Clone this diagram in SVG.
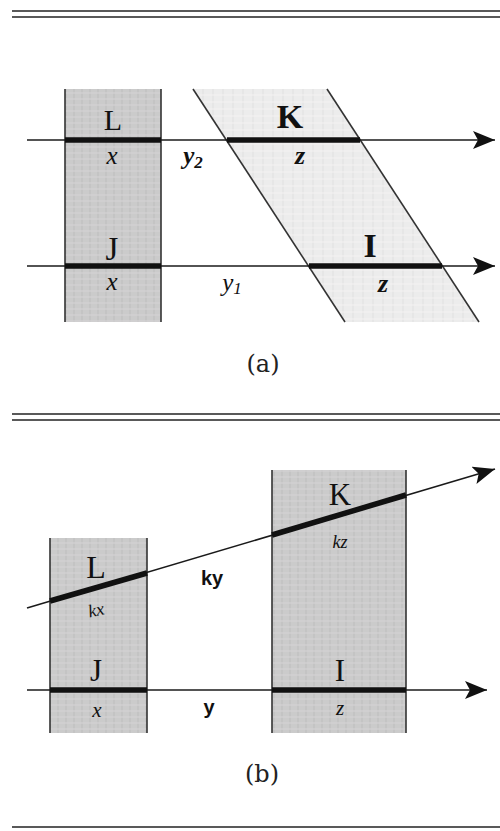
<svg xmlns="http://www.w3.org/2000/svg" width="500" height="831" viewBox="0 0 500 831">
  <defs>
    <style>
      .rule { stroke:#222; stroke-width:1.6; fill:none; }
      .axis { stroke:#1a1a1a; stroke-width:1.6; fill:none; }
      .thick { stroke:#111; stroke-width:5.5; stroke-linecap:butt; fill:none; }
      .side { stroke:#333; stroke-width:1.6; fill:none; }
      .cap { font-family:"Liberation Serif","Times New Roman",serif; fill:#111; text-anchor:middle; }
      .var { font-family:"Liberation Serif","Times New Roman",serif; font-style:italic; fill:#111; text-anchor:middle; }
      .capt { font-family:"DejaVu Serif","Liberation Serif",serif; fill:#222; text-anchor:middle; font-size:24px; }
    </style>
    <pattern id="tex" width="8" height="6" patternUnits="userSpaceOnUse">
      <rect width="8" height="6" fill="#cbcbcb"/>
      <line x1="2" y1="0" x2="2" y2="6" stroke="#bdbdbd" stroke-width="1"/>
      <line x1="0" y1="3" x2="8" y2="3" stroke="#d6d4d6" stroke-width="1"/>
    </pattern>
    <pattern id="tex2" width="10" height="7" patternUnits="userSpaceOnUse">
      <rect width="10" height="7" fill="#ececec"/>
      <line x1="3" y1="0" x2="3" y2="7" stroke="#e0e0e0" stroke-width="1"/>
      <line x1="0" y1="4" x2="10" y2="4" stroke="#f4f2f2" stroke-width="1"/>
    </pattern>
    <marker id="arr" markerUnits="userSpaceOnUse" markerWidth="24" markerHeight="18" refX="22" refY="9" orient="auto">
      <path d="M0,0 L22,9 L0,18 L5,9 Z" fill="#111"/>
    </marker>
  </defs>

  <!-- page rules -->
  <g id="rules">
    <line class="rule" x1="12" y1="11" x2="500" y2="11"/>
    <line class="rule" x1="12" y1="17" x2="500" y2="17"/>
    <line class="rule" x1="12" y1="414" x2="500" y2="414"/>
    <line class="rule" x1="12" y1="420" x2="500" y2="420"/>
    <line class="rule" x1="12" y1="827" x2="500" y2="827"/>
  </g>

  <!-- (a) nodes -->
  <g id="a-left-block">
    <rect x="65" y="89" width="96" height="233" fill="url(#tex)"/>
    <line class="side" x1="65" y1="89" x2="65" y2="322"/>
    <line class="side" x1="161" y1="89" x2="161" y2="322"/>
  </g>
  <g id="a-right-block">
    <polygon points="193,89 327,89 479,322 345,322" fill="url(#tex2)"/>
    <line class="side" x1="193" y1="89" x2="345" y2="322"/>
    <line class="side" x1="327" y1="89" x2="479" y2="322"/>
  </g>

  <!-- (b) nodes -->
  <g id="b-left-block">
    <rect x="50" y="538" width="97" height="195" fill="url(#tex)"/>
    <line class="side" x1="50" y1="538" x2="50" y2="733"/>
    <line class="side" x1="147" y1="538" x2="147" y2="733"/>
  </g>
  <g id="b-right-block">
    <rect x="272" y="470" width="134" height="263" fill="url(#tex)"/>
    <line class="side" x1="272" y1="470" x2="272" y2="733"/>
    <line class="side" x1="406" y1="470" x2="406" y2="733"/>
  </g>

  <!-- connectors -->
  <g id="connectors">
    <line class="axis" x1="27" y1="140" x2="495" y2="140" marker-end="url(#arr)"/>
    <line class="axis" x1="27" y1="266" x2="495" y2="266" marker-end="url(#arr)"/>
    <line class="axis" x1="27" y1="608" x2="495" y2="469" marker-end="url(#arr)"/>
    <line class="axis" x1="27" y1="690" x2="487" y2="690" marker-end="url(#arr)"/>
    <!-- thick segments -->
    <line class="thick" x1="65" y1="140" x2="161" y2="140"/>
    <line class="thick" x1="227" y1="140" x2="360" y2="140"/>
    <line class="thick" x1="65" y1="266" x2="161" y2="266"/>
    <line class="thick" x1="309" y1="266" x2="442" y2="266"/>
    <line class="thick" x1="50" y1="601" x2="147" y2="573"/>
    <line class="thick" x1="272" y1="535" x2="406" y2="495"/>
    <line class="thick" x1="50" y1="690" x2="147" y2="690"/>
    <line class="thick" x1="272" y1="690" x2="406" y2="690"/>
  </g>

  <!-- labels (a) -->
  <g id="labels-a">
    <text class="cap" x="113" y="130" font-size="30">L</text>
    <text class="cap" x="290" y="128" font-size="34" font-weight="bold">K</text>
    <text class="var" x="112" y="164" font-size="25">x</text>
    <text class="var" x="193" y="164" font-size="25" font-weight="bold">y<tspan font-size="17" dy="4">2</tspan></text>
    <text class="var" x="300" y="164" font-size="26" font-weight="bold">z</text>
    <text class="cap" x="112" y="260" font-size="33">J</text>
    <text class="cap" x="370" y="257" font-size="34" font-weight="bold">I</text>
    <text class="var" x="112" y="290" font-size="25">x</text>
    <text class="var" x="232" y="291" font-size="25">y<tspan font-size="17" dy="3">1</tspan></text>
    <text class="var" x="383" y="292" font-size="26" font-weight="bold">z</text>
    <text class="capt" x="263" y="372">(a)</text>
  </g>

  <!-- labels (b) -->
  <g id="labels-b">
    <text class="cap" x="96" y="578" font-size="32">L</text>
    <text class="cap" x="340" y="505" font-size="31">K</text>
    <text class="var" x="96" y="616" font-size="18" transform="rotate(-12 96 610)">kx</text>
    <text class="var" x="212" y="585" font-size="20" font-weight="bold" style="font-style:normal;font-family:'Liberation Sans',Arial,sans-serif">ky</text>
    <text class="var" x="340" y="548" font-size="18">kz</text>
    <text class="cap" x="96" y="681" font-size="31">J</text>
    <text class="cap" x="340" y="681" font-size="31">I</text>
    <text class="var" x="97" y="717" font-size="21">x</text>
    <text class="var" x="209" y="714" font-size="20" font-weight="bold" style="font-style:normal;font-family:'Liberation Sans',Arial,sans-serif">y</text>
    <text class="var" x="340" y="715" font-size="21">z</text>
    <text class="capt" x="262" y="782">(b)</text>
  </g>
</svg>
